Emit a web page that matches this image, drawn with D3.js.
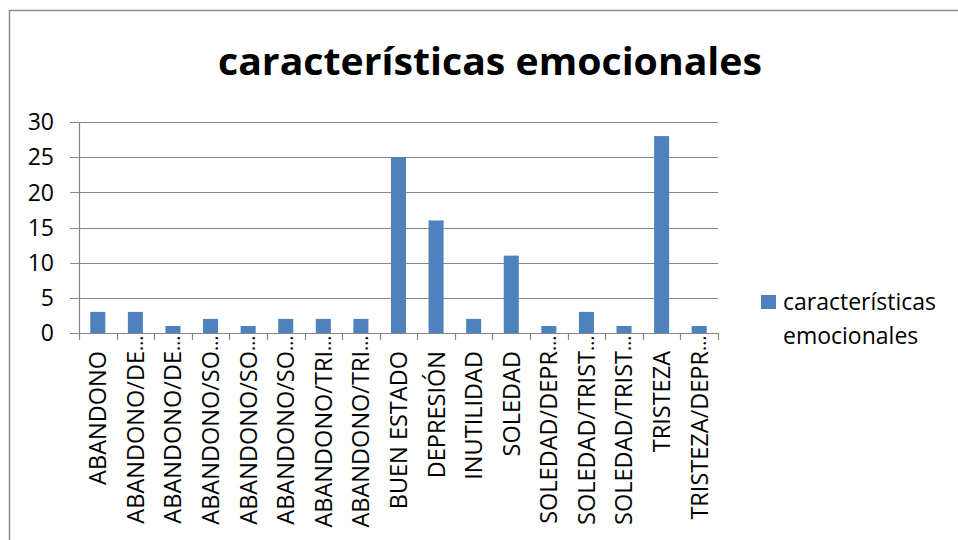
<!DOCTYPE html>
<html>
<head>
<meta charset="utf-8">
<script src="https://cdn.jsdelivr.net/npm/d3@7"></script>
<style>
  body { margin: 0; background: #fff; }
  text { font-family: "Open Sans", sans-serif; fill: #000; }
</style>
</head>
<body>
<svg id="chart" width="958" height="540"></svg>
<script>
const categories = ["ABANDONO", "ABANDONO/DE…", "ABANDONO/DE…", "ABANDONO/SO…", "ABANDONO/SO…",
  "ABANDONO/SO…", "ABANDONO/TRI…", "ABANDONO/TRI…", "BUEN ESTADO", "DEPRESIÓN", "INUTILIDAD",
  "SOLEDAD", "SOLEDAD/DEPR…", "SOLEDAD/TRIST…", "SOLEDAD/TRIST…", "TRISTEZA", "TRISTEZA/DEPR…"]
const values = [3, 3, 1, 2, 1, 2, 2, 2, 25, 16, 2, 11, 1, 3, 1, 28, 1]
const yTicks = [0, 5, 10, 15, 20, 25, 30]
const legendLines = ["características", "emocionales"]
const title = "características emocionales"

const svg = d3.select("#chart")
const plotL = 79, plotR = 718, plotT = 122, plotB = 333
const grid = "#868686"

// outer chart border (runs off the right and bottom edges)
svg.append("rect")
  .attr("x", 9.5).attr("y", 10.5).attr("width", 1000).attr("height", 600)
  .attr("fill", "none").attr("stroke", "#8c8c8c").attr("stroke-width", 1.5)

svg.append("text")
  .attr("x", 490).attr("y", 75)
  .attr("text-anchor", "middle")
  .attr("font-size", 38).attr("font-weight", "bold")
  .attr("textLength", 544).attr("lengthAdjust", "spacingAndGlyphs")
  .text(title)

const x = d3.scaleBand().domain(d3.range(categories.length)).range([plotL, plotR])
const y = d3.scaleLinear().domain([0, 30]).range([plotB, plotT])

// gridlines + y ticks
svg.append("g").selectAll("line")
  .data(yTicks)
  .enter().append("line")
    .attr("x1", plotL - 9).attr("x2", plotR)
    .attr("y1", d => Math.round(y(d)) + 0.5).attr("y2", d => Math.round(y(d)) + 0.5)
    .attr("stroke", grid).attr("stroke-width", 1.2)

svg.append("g").selectAll("text")
  .data(yTicks)
  .enter().append("text")
    .attr("x", 54).attr("y", d => y(d))
    .attr("dy", "0.36em")
    .attr("text-anchor", "end")
    .attr("font-size", 23)
    .text(d => d)

// y axis line
svg.append("line")
  .attr("x1", plotL + 0.5).attr("x2", plotL + 0.5).attr("y1", plotT).attr("y2", plotB)
  .attr("stroke", grid).attr("stroke-width", 1.2)

// bars
const barW = x.bandwidth() * 0.4
svg.append("g").selectAll("rect")
  .data(values)
  .enter().append("rect")
    .attr("x", (d, i) => x(i) + (x.bandwidth() - barW) / 2)
    .attr("y", d => y(d))
    .attr("width", barW)
    .attr("height", d => y(0) - y(d))
    .attr("fill", "#4f81bd")

// x axis line and tick marks at band edges
svg.append("line")
  .attr("x1", plotL).attr("x2", plotR + 1).attr("y1", plotB + 0.5).attr("y2", plotB + 0.5)
  .attr("stroke", grid).attr("stroke-width", 1.2)

svg.append("g").selectAll("line")
  .data(d3.range(categories.length + 1))
  .enter().append("line")
    .attr("x1", i => Math.round(plotL + i * x.step()) + 0.5)
    .attr("x2", i => Math.round(plotL + i * x.step()) + 0.5)
    .attr("y1", plotB).attr("y2", plotB + 7)
    .attr("stroke", grid).attr("stroke-width", 1.2)

// rotated category labels; the ellipsis of cut labels hangs up toward the axis
const labels = svg.append("g").selectAll("g")
  .data(categories)
  .enter().append("g")
    .attr("transform", (d, i) => `translate(${x(i) + x.bandwidth() / 2},351) rotate(-90)`)

labels.append("text")
  .attr("text-anchor", "end")
  .attr("dy", "0.36em")
  .attr("font-size", 23.5)
  .text(d => d.replace("…", ""))

labels.filter(d => d.endsWith("…")).append("text")
  .attr("text-anchor", "start")
  .attr("dy", "0.36em")
  .attr("font-size", 20)
  .text("…")

// legend
const legend = svg.append("g").attr("transform", "translate(761,295)")
legend.append("rect").attr("width", 15).attr("height", 14).attr("fill", "#4f81bd")
legend.selectAll("text")
  .data(legendLines)
  .enter().append("text")
    .attr("x", 22).attr("y", (d, i) => 15 + i * 34)
    .attr("font-size", 23)
    .text(d => d)
</script>
</body>
</html>
